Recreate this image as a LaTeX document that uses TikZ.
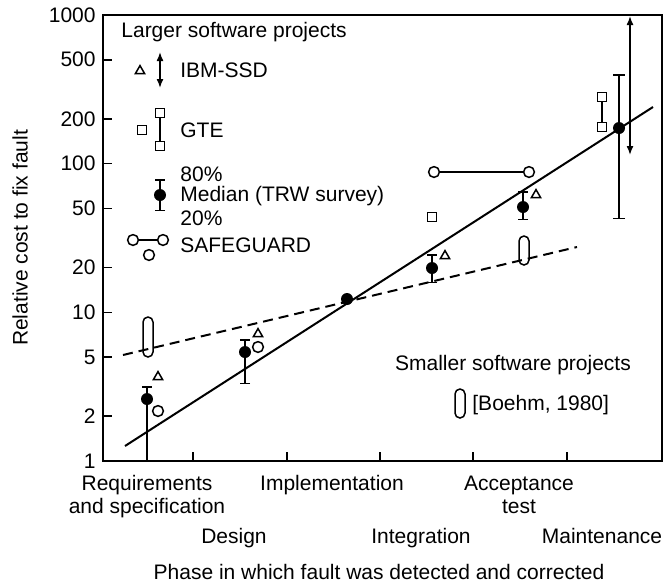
\documentclass[tikz,border=0pt]{standalone}
\usepackage{fontspec}
\setmainfont{Liberation Sans}
\usepackage{tikz}
\usetikzlibrary{arrows.meta,shapes.geometric}

\begin{document}
\begin{tikzpicture}[x=0.5pt,y=-0.5pt,
    every node/.style={inner sep=0pt,font=\fontsize{10.5}{12}\selectfont},
    lbl/.style={anchor=west},
    phase/.style={anchor=base},
    med/.style={circle,fill=black,minimum size=6pt},
    opn/.style={circle,draw=black,fill=white,line width=0.75pt,minimum size=5.4pt},
    sqr/.style={rectangle,draw=black,fill=white,line width=0.75pt,minimum size=4.6pt},
    tri/.style={regular polygon,regular polygon sides=3,draw=black,line width=0.75pt,minimum size=5.4pt},
    ovl/.style={line width=0.75pt,rounded corners=2.5pt},
    ebar/.style={line width=0.75pt,{Bar[width=5pt]}-{Bar[width=5pt]}},
    dbl/.style={line width=0.75pt,{Latex[length=4.5pt,width=3.5pt]}-{Latex[length=4.5pt,width=3.5pt]}}]

    \useasboundingbox (0,0) rectangle (664,585);

    % frame
    \draw[line width=1pt] (103,15) rectangle (662,461);

    % y axis, log scale
    \foreach \v in {1,2,5,10,20,50,100,200,500,1000}{
        \draw[line width=0.8pt] (103,{461-148.67*log10(\v)}) -- (112,{461-148.67*log10(\v)});
        \node[anchor=east] (y\v) at (96,{461-148.67*log10(\v)}) {\v};
    }
    \node[rotate=90] (ylab) at (20,238) {Relative cost to fix fault};

    % x axis, phase boundaries
    \foreach \x in {193,287,380,473,567}
        \draw[line width=0.8pt] (\x,461) -- (\x,452);

    \node[phase] (req)   at (147,490) {Requirements};
    \node[phase] (spec)  at (147,513) {and specification};
    \node[phase] (des)   at (234,543) {Design};
    \node[phase] (impl)  at (332,490) {Implementation};
    \node[phase] (integ) at (421,543) {Integration};
    \node[phase] (acc)   at (519,490) {Acceptance};
    \node[phase] (test)  at (519,513) {test};
    \node[phase] (maint) at (602,543) {Maintenance};
    \node[phase] (xlab)  at (379,579) {Phase in which fault was detected and corrected};

    % fitted lines
    \draw[line width=1pt] (125,446) -- (653,107);
    \draw[line width=1pt,dash pattern=on 5pt off 3pt] (123,355) -- (577,247);

    % legend, larger projects
    \node[lbl] (larger) at (121,32) {Larger software projects};
    \node[tri] (ltri) at (140,71) {};
    \draw[dbl] (160,52) -- (160,88);
    \node[lbl] (ibm) at (180,70) {IBM-SSD};
    \node[sqr] (lsq) at (142,130) {};
    \node[sqr] (lsq1) at (160,113) {};
    \node[sqr] (lsq2) at (160,146) {};
    \draw[line width=0.75pt] (lsq1) -- (lsq2);
    \node[lbl] (gte) at (180,130) {GTE};
    \draw[ebar] (160,179) -- (160,211);
    \node[med] (lmed) at (160,195) {};
    \node[lbl] (p80) at (180,174) {80\%};
    \node[lbl] (median) at (180,196) {Median (TRW survey)};
    \node[lbl] (p20) at (180,218) {20\%};
    \node[opn] (ls1) at (133,240) {};
    \node[opn] (ls2) at (163,240) {};
    \draw[line width=0.75pt] (ls1) -- (ls2);
    \node[opn] (ls3) at (149,255) {};
    \node[lbl] (safe) at (180,245) {SAFEGUARD};

    % legend, smaller projects
    \node (smaller) at (513,365) {Smaller software projects};
    \draw[ovl] (455,389) rectangle (465,418);
    \node[lbl] (boehm) at (472,405) {[Boehm, 1980]};

    % requirements
    \draw[ovl] (143,317) rectangle (153,357);
    \draw[line width=0.75pt,{Bar[width=5pt]}-] (147,386) -- (147,461);
    \node[med] (rmed) at (147,399) {};
    \node[tri] (rtri) at (158,377) {};
    \node[opn] (rcir) at (158,411) {};

    % design
    \draw[ebar] (245,339) -- (245,384);
    \node[med] (dmed) at (245,352) {};
    \node[tri] (dtri) at (258,334) {};
    \node[opn] (dcir) at (258,347) {};

    % implementation
    \node[med] (imed) at (347,299) {};

    % integration
    \draw[ebar] (432,254) -- (432,283);
    \node[med] (gmed) at (432,268) {};
    \node[tri] (gtri) at (445,256) {};
    \node[sqr] (gsq) at (432,217) {};

    % safeguard
    \node[opn] (sg1) at (434,172) {};
    \node[opn] (sg2) at (529,172) {};
    \draw[line width=0.75pt] (sg1) -- (sg2);

    % acceptance
    \draw[ovl] (519,236) rectangle (529,265);
    \draw[ebar] (523,191) -- (523,220);
    \node[med] (amed) at (523,207) {};
    \node[tri] (atri) at (536,195) {};

    % maintenance
    \draw[line width=0.75pt,{Bar[width=6pt]}-{Bar[width=6pt]}] (619,74) -- (619,219);
    \node[med] (mmed) at (619,128) {};
    \node[sqr] (msq1) at (602,97) {};
    \node[sqr] (msq2) at (602,127) {};
    \draw[line width=0.75pt] (msq1) -- (msq2);
    \draw[dbl] (630,16) -- (630,155);

\end{tikzpicture}
\end{document}
